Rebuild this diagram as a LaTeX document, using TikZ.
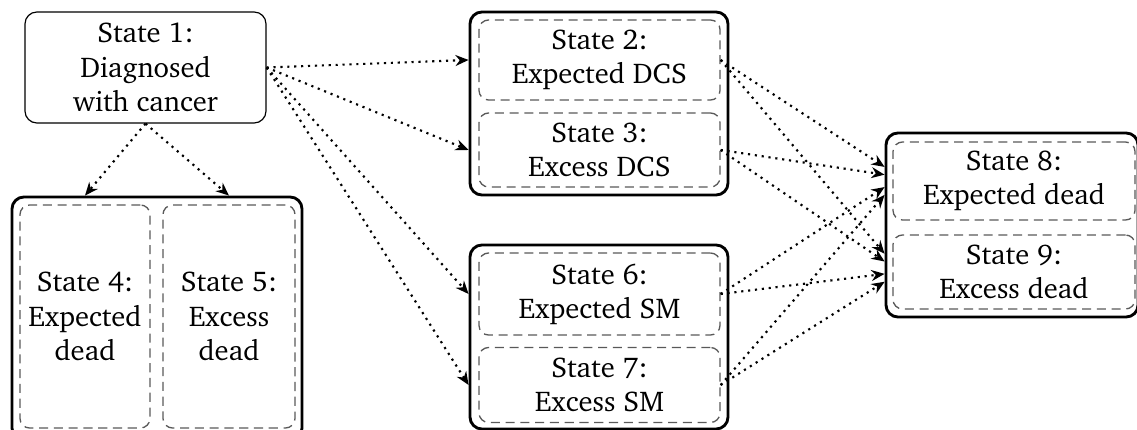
\documentclass[tikz,border=0pt]{standalone}
\usepackage[T1]{fontenc}
\usepackage{charter}
\usetikzlibrary{arrows.meta}
\tikzset{
  startbox/.style={draw, line width=0.5pt, rounded corners=5pt, align=center, inner sep=0pt},
  groupbox/.style={draw, line width=1.2pt, rounded corners=5pt, inner sep=0pt},
  statebox/.style={draw=black!65, dash pattern=on 3.8pt off 2.4pt, line width=0.55pt, rounded corners=4pt, align=center, inner sep=0pt},
  flow/.style={line width=0.9pt, dotted, -{Stealth[length=5.5pt,width=4.6pt]}}
}
\begin{document}
\begin{tikzpicture}[x=0.42pt,y=-0.42pt,font=\fontsize{12}{14.4}\selectfont]
\useasboundingbox (0,0) rectangle (1137,430);
% start state
\node[startbox, minimum width=101.22pt, minimum height=46.62pt] (s1) at (145.5,67.5) {State 1:\\Diagnosed\\with cancer};
% group 2/3
\node[groupbox, minimum width=108.36pt, minimum height=76.86pt] (g23) at (599,103.5) {};
\node[statebox, minimum width=101.22pt, minimum height=33.6pt] (s2) at (599.5,60) {State 2:\\Expected DCS};
\node[statebox, minimum width=101.22pt, minimum height=31.08pt] (s3) at (599.5,150) {State 3:\\Excess DCS};
% group 6/7
\node[groupbox, minimum width=108.36pt, minimum height=77.28pt] (g67) at (599,337) {};
\node[statebox, minimum width=101.22pt, minimum height=34.44pt] (s6) at (599.5,294) {State 6:\\Expected SM};
\node[statebox, minimum width=101.22pt, minimum height=31.5pt] (s7) at (599.5,385) {State 7:\\Excess SM};
% group 8/9
\node[groupbox, minimum width=105.84pt, minimum height=77.28pt] (g89) at (1012,225) {};
\node[statebox, minimum width=101.64pt, minimum height=32.76pt] (s8) at (1014,181) {State 8:\\Expected dead};
\node[statebox, minimum width=101.64pt, minimum height=31.08pt] (s9) at (1014,272) {State 9:\\Excess dead};
% group 4/5
\node[groupbox, minimum width=121.8pt, minimum height=102.06pt] (g45) at (157,318.5) {};
\node[statebox, minimum width=54.6pt, minimum height=93.66pt] (s4) at (85,316.5) {State 4:\\Expected\\dead};
\node[statebox, minimum width=55.44pt, minimum height=93.66pt] (s5) at (229,316.5) {State 5:\\Excess\\dead};
% convergence points for the arrows into 8/9
\coordinate (c8) at (900,177);
\coordinate (c9) at (900,272);
% arrows from state 1
\draw[flow] (s1.east) -- (s2.west -| g23.west);
\draw[flow] (s1.east) -- (s3.west -| g23.west);
\draw[flow] (s1.east) -- (s6.west -| g67.west);
\draw[flow] (s1.east) -- (s7.west -| g67.west);
\draw[flow] (s1.south) -- (s4.north |- g45.north);
\draw[flow] (s1.south) -- (s5.north |- g45.north);
% arrows into 8/9
\foreach \src in {s2,s3,s6,s7}{
  \draw[flow] (\src.east) -- (intersection of \src.east--c8 and g89.north west--g89.south west);
  \draw[flow] (\src.east) -- (intersection of \src.east--c9 and g89.north west--g89.south west);
}
\end{tikzpicture}
\end{document}
